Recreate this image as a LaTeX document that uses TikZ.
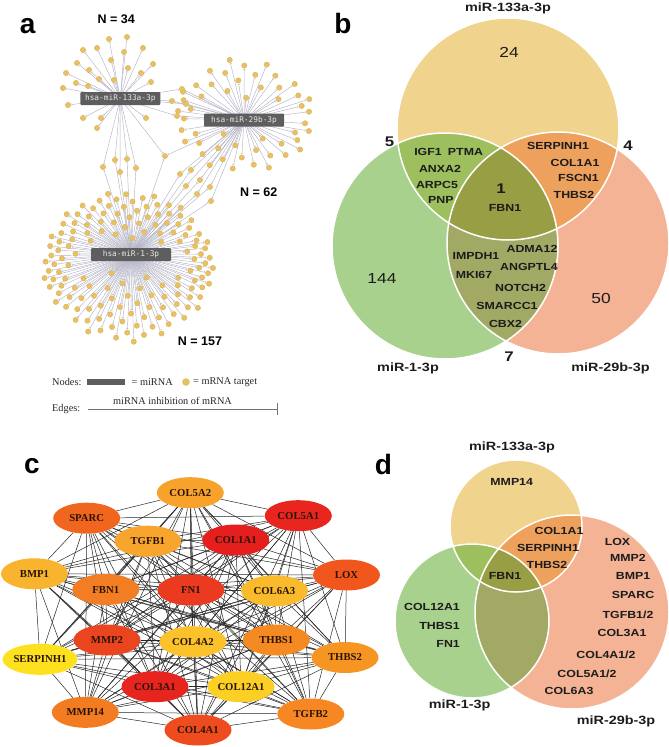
\documentclass[tikz,border=0pt]{standalone}
\usepackage{fontspec}
\setmainfont{Liberation Serif}
\newfontfamily\vf{Liberation Sans}[FakeStretch=1.2]
\newfontfamily\hf{Liberation Sans}
\newfontfamily\mf{DejaVu Sans Mono}
\usetikzlibrary{shapes.geometric,arrows.meta}
\pgfdeclarelayer{bg}
\pgfsetlayers{bg,main}
% colours
\definecolor{colDot}{HTML}{E7C165}
\definecolor{colDotD}{HTML}{D9AE4F}
\definecolor{colEdge}{HTML}{B4B4C6}
\definecolor{colBox}{HTML}{5E5E5E}
\definecolor{colHubT}{HTML}{E8E8E8}
\definecolor{colY}{HTML}{F0D38C}
\definecolor{colG}{HTML}{A9D18E}
\definecolor{colS}{HTML}{F4B394}
\definecolor{colYG}{HTML}{9DBF5D}
\definecolor{colYS}{HTML}{EEA15C}
\definecolor{colGS}{HTML}{A2A965}
\definecolor{colYGS}{HTML}{989E43}
\definecolor{colTxt}{HTML}{1C1C1C}
\definecolor{colGt}{HTML}{2A1408}
\tikzset{
  panel/.style={font=\hf\bfseries\fontsize{28}{30}\selectfont, inner sep=0pt},
  ncount/.style={font=\hf\bfseries\fontsize{12.5}{14}\selectfont, inner sep=0pt},
  hub/.style={fill=colBox, rounded corners=1pt, minimum width=80pt, minimum height=13pt, inner sep=0pt, text=colHubT, font=\mf\fontsize{7.8}{9}\selectfont},
  dot/.style={circle, fill=colDot, draw=colDotD, line width=0.3pt, minimum size=5.4pt, inner sep=0pt},
  edgeA/.style={draw=colEdge, line width=0.45pt, -{Bar[width=2.4pt,line width=0.45pt]}, shorten >=0.8pt},
  legt/.style={font=\fontsize{10.3}{12}\selectfont, inner sep=0pt, text=black!85},
  vt/.style={font=\vf\bfseries\fontsize{10.3}{12}\selectfont, inner sep=0pt, text=colTxt},
  vtitle/.style={font=\vf\bfseries\fontsize{12}{14}\selectfont, inner sep=0pt, anchor=base, text=colTxt},
  vnum/.style={font=\vf\fontsize{14.5}{16}\selectfont, inner sep=0pt, text=colTxt},
  vbn/.style={font=\vf\bfseries\fontsize{14}{16}\selectfont, inner sep=0pt, text=colTxt},
  gn/.style={ellipse, minimum width=67pt, minimum height=31pt, inner sep=0pt, font=\bfseries\fontsize{10.7}{12}\selectfont, text=colGt},
  gedge/.style={line width=0.5pt, draw=black!85},
  vline/.style={draw=white, line width=1.5pt}
}
\newcommand\mycloud[9]{%
  \foreach \i in {1,...,#2}{%
    \pgfmathsetmacro\myang{10*mod(\i*13.7508,36)}%
    \pgfmathsetmacro\myc{abs(cos(\myang))}%
    \pgfmathsetmacro\mys{abs(sin(\myang))}%
    \pgfmathsetmacro\mysz{min(48/(#5*\myc+0.01),13/(#6*\mys+0.01))}%
    \pgfmathsetmacro\myss{\mysz+(1-\mysz)*sqrt((\i-0.5)/#2)}%
    \pgfmathsetmacro\myx{#3+#7*\myss+#5*\myss*cos(\myang)}%
    \pgfmathsetmacro\myy{#4+#8*\myss+#6*\myss*sin(\myang)}%
    \node[dot] (#1\i) at (\myx,\myy) {};%
    \begin{pgfonlayer}{bg}\draw[edgeA] (#9) -- (#1\i);\end{pgfonlayer}%
  }%
}
\begin{document}
\begin{tikzpicture}[x=1pt,y=-1pt]
\useasboundingbox (0,0) rectangle (669,747);
% ================= panel a =================
\node[panel] (la) at (27.7,25.7) {a};
\node[ncount] (n34) at (116.3,19.5) {N = 34};
\node[ncount] (n62) at (258.7,192) {N = 62};
\node[ncount] (n157) at (200,341.7) {N = 157};
\coordinate (H133) at (120.3,98.5);
\coordinate (H29) at (244,120);
\coordinate (H1) at (131,254.5);
% miR-133a unique targets
\foreach \p/\x/\y in {1/109/39, 2/127/37, 3/83/50, 4/97/48, 5/124/52, 6/143/48, 7/111/60, 8/153/64,
  9/128/68, 10/77/63, 11/66/73, 12/89/70, 13/141/73, 14/76/83, 15/99/79, 16/151/82, 17/63/88,
  18/114/80, 19/68/105, 20/83/118, 21/101/118, 22/97/128, 23/146/118, 24/88/86}{
  \node[dot] (u\p) at (\x,\y) {};
  \begin{pgfonlayer}{bg}\draw[edgeA] (H133) -- (u\p);\end{pgfonlayer}
}
% miR-29b unique targets
\mycloud{v}{50}{244}{120}{69}{58}{0}{-4}{H29}
% miR-1 unique targets
\mycloud{w}{144}{131}{254.5}{85}{76}{-3}{12}{H1}
% shared 133a & 29b
\foreach \p/\x/\y in {1/182/89, 2/172/101, 3/186/104, 4/177/116}{
  \node[dot] (sa\p) at (\x,\y) {};
  \begin{pgfonlayer}{bg}\draw[edgeA] (H133) -- (sa\p); \draw[edgeA] (H29) -- (sa\p);\end{pgfonlayer}
}
% shared 133a & 1
\foreach \p/\x/\y in {1/103/167, 2/115/160, 3/127/159, 4/136/168, 5/120/172}{
  \node[dot] (sb\p) at (\x,\y) {};
  \begin{pgfonlayer}{bg}\draw[edgeA] (H133) -- (sb\p); \draw[edgeA] (H1) -- (sb\p);\end{pgfonlayer}
}
% shared 29b & 1
\foreach \p/\x/\y in {1/180/174, 2/191/170, 3/186/186, 4/200/180, 5/197/194, 6/211/201, 7/210/187}{
  \node[dot] (sc\p) at (\x,\y) {};
  \begin{pgfonlayer}{bg}\draw[edgeA] (H29) -- (sc\p); \draw[edgeA] (H1) -- (sc\p);\end{pgfonlayer}
}
% shared by all three
\node[dot] (sall) at (165,156) {};
\begin{pgfonlayer}{bg}\draw[edgeA] (H133) -- (sall); \draw[edgeA] (H29) -- (sall); \draw[edgeA] (H1) -- (sall);\end{pgfonlayer}
% hubs
\node[hub] (hub133) at (H133) {hsa-miR-133a-3p};
\node[hub] (hub29) at (H29) {hsa-miR-29b-3p};
\node[hub] (hub1) at (H1) {hsa-miR-1-3p};
% legend
\node[legt, anchor=west] (lgN) at (52,382) {Nodes:};
\node[fill=colBox, minimum width=38pt, minimum height=6pt, inner sep=0pt] (lgBar) at (106,382) {};
\node[legt, anchor=west] (lgM) at (131.5,382) {= miRNA};
\node[dot, minimum size=7pt] (lgDot) at (186,382) {};
\node[legt, anchor=west] (lgT) at (193,382) {= mRNA target};
\node[legt] (lgInh) at (172.5,400.5) {miRNA inhibition of mRNA};
\node[legt, anchor=west] (lgE) at (52,409.5) {Edges:};
\coordinate (lgA) at (88,409);
\coordinate (lgB) at (277.5,409);
\draw[line width=0.8pt, draw=black!55, -{Bar[width=12pt,line width=0.8pt]}] (lgA) -- (lgB);
% ================= panel b =================
\fill[colY] (508,129) circle[radius=111];
\fill[colG] (445,246) circle[radius=113];
\fill[colS] (558,243) circle[radius=111];
\begin{scope}\clip (508,129) circle[radius=111]; \fill[colYG] (445,246) circle[radius=113];\end{scope}
\begin{scope}\clip (508,129) circle[radius=111]; \fill[colYS] (558,243) circle[radius=111];\end{scope}
\begin{scope}\clip (445,246) circle[radius=113]; \fill[colGS] (558,243) circle[radius=111];\end{scope}
\begin{scope}\clip (508,129) circle[radius=111]; \clip (445,246) circle[radius=113]; \fill[colYGS] (558,243) circle[radius=111];\end{scope}
\draw[vline] (508,129) circle[radius=111];
\draw[vline] (445,246) circle[radius=113];
\draw[vline] (558,243) circle[radius=111];
\node[panel] (lb) at (343,23) {b};
\node[vtitle] (bt1) at (508,11.7) {miR-133a-3p};
\node[vtitle] (bt2) at (408,371.5) {miR-1-3p};
\node[vtitle] (bt3) at (610.5,371.5) {miR-29b-3p};
\node[vnum] (b24) at (509,52) {24};
\node[vnum] (b144) at (382,279) {144};
\node[vnum] (b50) at (601,299) {50};
\node[vbn] (b5) at (389.5,142) {5};
\node[vbn] (b4) at (628,145.5) {4};
\node[vbn] (b7) at (509,357) {7};
\node[vbn] (b1) at (501,188.5) {1};
\node[vt] (bIGF) at (428,151.5) {IGF1};
\node[vt] (bPTMA) at (465.5,151.5) {PTMA};
\node[vt] (bANXA) at (440,169) {ANXA2};
\node[vt] (bARPC) at (437,184.7) {ARPC5};
\node[vt] (bPNP) at (440.8,199.5) {PNP};
\node[vt] (bFBN) at (505,207.5) {FBN1};
\node[vt] (bSERP) at (558,145.5) {SERPINH1};
\node[vt] (bCOL) at (575,162.5) {COL1A1};
\node[vt] (bFSCN) at (578.5,178.3) {FSCN1};
\node[vt] (bTHBS) at (574,195) {THBS2};
\node[vt] (bIMP) at (476,256.3) {IMPDH1};
\node[vt] (bADMA) at (532,248.8) {ADMA12};
\node[vt] (bANG) at (529,266.5) {ANGPTL4};
\node[vt] (bMKI) at (474,274.5) {MKI67};
\node[vt] (bNOT) at (520.5,287.5) {NOTCH2};
\node[vt] (bSMA) at (507,305.8) {SMARCC1};
\node[vt] (bCBX) at (505.5,324) {CBX2};
% ================= panel c =================
\node[panel] (lc) at (32,466) {c};
\foreach \k/\x/\y/\c/\t in {
  1/190.3/492.7/F7A32B/COL5A2, 2/86.7/518.2/F1661E/SPARC, 3/298.3/515.7/E8261F/COL5A1,
  4/147.8/541.2/F7A52C/TGFB1, 5/235.8/540/E41F1E/COL1A1, 6/34.5/573.8/F8B42E/BMP1,
  7/346.5/575/F1571D/LOX, 8/105.8/589.5/F27D22/FBN1, 9/191/590/EA3A1F/FN1,
  10/274.5/590.8/F9BB2C/COL6A3, 11/107/640/EB451F/MMP2, 12/193/641.7/FBC22B/COL4A2,
  13/276.3/640/F58A22/THBS1, 14/40/659.3/FDE11F/SERPINH1, 15/345/657.5/F79523/THBS2,
  16/155/686.7/E8241F/COL3A1, 17/241/686.7/FBCF24/COL12A1, 18/85.3/712.3/F37B22/MMP14,
  19/310.8/714/F68722/TGFB2, 20/198/730/EE4B1F/COL4A1}{
  \definecolor{tmpc}{HTML}{\c}
  \node[gn, fill=tmpc] (c\k) at (\x,\y) {\t};
}
\begin{pgfonlayer}{bg}
\foreach \i in {1,...,19}{
  \pgfmathtruncatemacro\ii{\i+1}
  \foreach \j in {\ii,...,20}{\draw[gedge] (c\i) -- (c\j);}
}
\end{pgfonlayer}
% ================= panel d =================
\fill[colY] (516,526) circle[radius=66];
\fill[colG] (472,621) circle[radius=77];
\fill[colS] (572,612) circle[radius=97];
\begin{scope}\clip (516,526) circle[radius=66]; \fill[colYG] (472,621) circle[radius=77];\end{scope}
\begin{scope}\clip (516,526) circle[radius=66]; \fill[colYS] (572,612) circle[radius=97];\end{scope}
\begin{scope}\clip (472,621) circle[radius=77]; \fill[colGS] (572,612) circle[radius=97];\end{scope}
\begin{scope}\clip (516,526) circle[radius=66]; \clip (472,621) circle[radius=77]; \fill[colYGS] (572,612) circle[radius=97];\end{scope}
\draw[vline] (516,526) circle[radius=66];
\draw[vline] (472,621) circle[radius=77];
\draw[vline] (572,612) circle[radius=97];
\node[panel] (ld) at (383.5,464) {d};
\node[vtitle] (dt1) at (512,450.7) {miR-133a-3p};
\node[vtitle] (dt2) at (459.7,708) {miR-1-3p};
\node[vtitle] (dt3) at (616,724) {miR-29b-3p};
\node[vt] (dMMP14) at (511.7,482.3) {MMP14};
\node[vt] (dCOL1) at (559,531) {COL1A1};
\node[vt] (dSERP) at (548,548) {SERPINH1};
\node[vt] (dTHBS2) at (547,565) {THBS2};
\node[vt] (dFBN) at (505,576) {FBN1};
\node[vt] (dLOX) at (617.5,541.5) {LOX};
\node[vt] (dMMP2) at (628,558) {MMP2};
\node[vt] (dBMP) at (633,576) {BMP1};
\node[vt] (dSPARC) at (633,595) {SPARC};
\node[vt] (dTGFB) at (628,614.5) {TGFB1/2};
\node[vt] (dCOL3) at (622,633) {COL3A1};
\node[vt] (dCOL4) at (606,655) {COL4A1/2};
\node[vt] (dCOL5) at (587,674) {COL5A1/2};
\node[vt] (dCOL6) at (569,691) {COL6A3};
\node[vt, anchor=east] (dCOL12) at (460,606.5) {COL12A1};
\node[vt, anchor=east] (dTHBS1) at (460,626) {THBS1};
\node[vt, anchor=east] (dFN1) at (460,644) {FN1};
\end{tikzpicture}
\end{document}
